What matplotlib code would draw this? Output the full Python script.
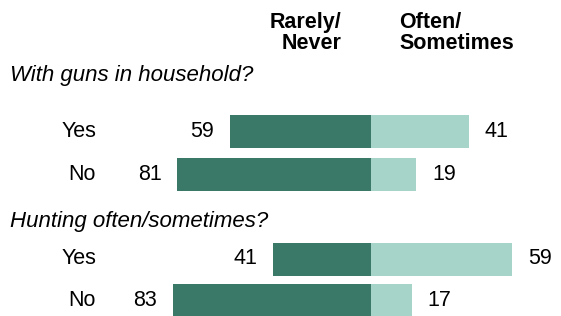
import matplotlib
matplotlib.use("Agg")
import matplotlib.pyplot as plt

groups = ["With guns in household?", "Hunting often/sometimes?"]
answers = ["Yes", "No"]
rarely = [[59, 81], [41, 83]]
often = [[41, 19], [59, 17]]
headers = ["Rarely/\nNever", "Often/\nSometimes"]

dark = "#3a7868"
light = "#a6d4c8"

plt.rcParams["font.family"] = ["Liberation Sans", "DejaVu Sans"]

fig = plt.figure(figsize=(5.61, 3.16), dpi=100)
ax = fig.add_axes([0, 0, 1, 1])
# x in percentage points (0 = split between the two answers), y in pixel rows
px = 2.39
x0 = -371 / px
ax.set_xlim(x0, (561 - 371) / px)
ax.set_ylim(316, 0)
ax.axis("off")

title_y = [76, 221]
bar_y = [[131.5, 174], [259, 300.5]]
bh = 33

for g in range(len(groups)):
    ax.text(x0 + 10 / px, title_y[g], groups[g], style="italic",
            fontsize=16, va="center", ha="left", color="black")
    for i in range(len(answers)):
        y = bar_y[g][i]
        r = rarely[g][i]
        o = often[g][i]
        ax.barh(y, -r, height=bh, left=0, color=dark)
        ax.barh(y, o, height=bh, left=0, color=light)
        ax.text(x0 + 96 / px, y, answers[i], ha="right", va="center",
                fontsize=15.5, color="black")
        ax.text(-r - 16 / px, y, str(r), ha="right", va="center",
                fontsize=15.5, color="black")
        ax.text(o + 16 / px, y, str(o), ha="left", va="center",
                fontsize=15.5, color="black")

ax.text(-30 / px, 33, headers[0], ha="right", va="center", fontsize=15.5,
        fontweight="bold", linespacing=1.05, multialignment="right")
ax.text(28 / px, 33, headers[1], ha="left", va="center", fontsize=15.5,
        fontweight="bold", linespacing=1.05, multialignment="left")

fig.savefig("out.png", dpi=100)
